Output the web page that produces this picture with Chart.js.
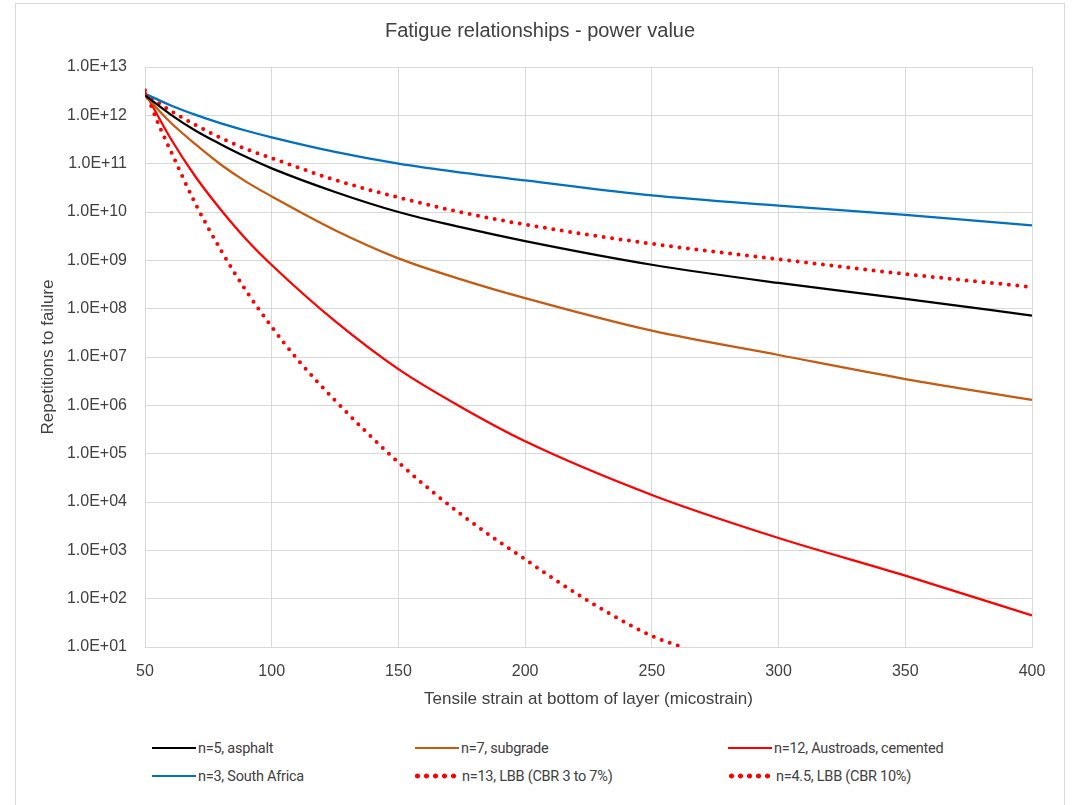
<!DOCTYPE html>
<html>
<head>
<meta charset="utf-8">
<script src="https://cdn.jsdelivr.net/npm/chart.js@4.4.1/dist/chart.umd.min.js"></script>
<style>
  body { margin: 0; background: #fff; font-family: "Liberation Sans", Arial, sans-serif; }
  #frame { position: absolute; left: 15px; top: 3px; width: 1050px; height: 830px; border: 1px solid #d9d9d9; box-sizing: border-box; }
  #chart { position: absolute; left: 0; top: 0; }
  .item { position: absolute; font-family: Roboto, sans-serif; font-size: 14.5px; letter-spacing: -0.25px; color: #404040;
          display: flex; align-items: center; white-space: nowrap; height: 20px; }
  .line { display: inline-block; width: 44px; height: 2.5px; margin-right: 2px; }
  .dots { display: inline-block; width: 46px; height: 6px; margin-right: 3px;
          background: radial-gradient(circle, #ff0000 2.2px, rgba(255,0,0,0) 2.8px) 0 0 / 9px 6px repeat-x; }
</style>
</head>
<body>
<div id="frame"></div>
<canvas id="chart" width="1077" height="720"></canvas>
<div id="legend"></div>
<script>
// strain (microstrain) for the smooth curves
const strain = [50, 60, 70, 80, 90, 100, 125, 150, 175, 200, 250, 300, 350, 400];
const asphaltN5 = [2.6e12, 1.05e12, 4.8e11, 2.5e11, 1.37e11, 8.0e10, 2.6e10, 1.0e10, 4.8e9, 2.5e9, 8.1e8, 3.4e8, 1.6e8, 7.2e7];
const subgradeN7 = [2.6e12, 7.2e11, 2.5e11, 9.5e10, 4.2e10, 2.1e10, 4.2e9, 1.1e9, 4.0e8, 1.65e8, 3.5e7, 1.1e7, 3.5e6, 1.3e6];
const cementedN12 = [3.0e12, 3.4e11, 5.3e10, 1.1e10, 2.7e9, 8.0e8, 5.5e7, 5.6e6, 9.0e5, 1.8e5, 1.4e4, 1.8e3, 3.0e2, 45];
const southAfricaN3 = [2.8e12, 1.62e12, 1.02e12, 6.8e11, 4.8e11, 3.5e11, 1.75e11, 1.0e11, 6.5e10, 4.5e10, 2.2e10, 1.35e10, 8.7e9, 5.3e9];
const lbbCbr10 = [2.8e12, 1.25e12, 6.3e11, 3.4e11, 2.0e11, 1.3e11, 4.6e10, 2.0e10, 9.8e9, 5.5e9, 2.2e9, 1.05e9, 5.2e8, 2.8e8];

// the steep LBB curve runs off the bottom near 262
const strainLbb37 = [50, 55, 60, 70, 80, 90, 100, 110, 125, 150, 175, 200, 225, 250, 262];
const lbbCbr3to7 = [3.3e12, 7.2e11, 1.9e11, 1.45e10, 1.6e9, 2.3e8, 4.2e7, 9.1e6, 1.26e6, 6.6e4, 5.4e3, 650, 89, 17, 10];

const xTicks = [50, 100, 150, 200, 250, 300, 350, 400];
const yTicks = [1e1, 1e2, 1e3, 1e4, 1e5, 1e6, 1e7, 1e8, 1e9, 1e10, 1e11, 1e12, 1e13];
const yTickLabels = ['1.0E+01', '1.0E+02', '1.0E+03', '1.0E+04', '1.0E+05', '1.0E+06', '1.0E+07',
                     '1.0E+08', '1.0E+09', '1.0E+10', '1.0E+11', '1.0E+12', '1.0E+13'];

const textColor = '#404040';
const gridColor = '#d9d9d9';

function pts(xs, ys) { return xs.map((x, i) => ({ x: x, y: ys[i] })); }

function solid(label, xs, ys, color) {
  return { label, data: pts(xs, ys), borderColor: color, backgroundColor: color,
           borderWidth: 2.25, pointRadius: 0, cubicInterpolationMode: 'monotone' };
}
function dotted(label, xs, ys) {
  return { label, data: pts(xs, ys), borderColor: '#ff0000', backgroundColor: '#ff0000',
           borderWidth: 4, borderDash: [0, 8.5], borderCapStyle: 'round',
           pointRadius: 0, cubicInterpolationMode: 'monotone', dotted: true };
}

const datasets = [
  solid('n=5, asphalt', strain, asphaltN5, '#000000'),
  solid('n=7, subgrade', strain, subgradeN7, '#c55a11'),
  solid('n=12, Austroads, cemented', strain, cementedN12, '#ff0000'),
  solid('n=3, South Africa', strain, southAfricaN3, '#0070c0'),
  dotted('n=13, LBB (CBR 3 to 7%)', strainLbb37, lbbCbr3to7),
  dotted('n=4.5, LBB (CBR 10%)', strain, lbbCbr10)
];

const chart = new Chart(document.getElementById('chart'), {
  type: 'line',
  data: { datasets },
  options: {
    responsive: false,
    animation: false,
    layout: { padding: { left: 48, right: 45, top: 5, bottom: 0 } },
    plugins: {
      legend: { display: false },
      tooltip: { enabled: false },
      title: {
        display: true,
        text: 'Fatigue relationships - power value',
        color: textColor,
        font: { size: 20, family: '"Liberation Sans", Arial, sans-serif', weight: 'normal' },
        padding: { top: 14, bottom: 24 }
      }
    },
    scales: {
      x: {
        type: 'linear', min: 50, max: 400,
        afterBuildTicks: s => { s.ticks = xTicks.map(v => ({ value: v })); },
        afterFit: s => { s.height = 73; },
        grid: { color: gridColor, drawTicks: false },
        border: { color: gridColor },
        ticks: { color: textColor, padding: 15, font: { size: 16 } },
        title: { display: true, text: 'Tensile strain at bottom of layer (micostrain)', color: textColor,
                 font: { size: 17 }, padding: { top: 0, bottom: 10 } }
      },
      y: {
        type: 'logarithmic', min: 1e1, max: 1e13,
        afterBuildTicks: s => { s.ticks = yTicks.map(v => ({ value: v })); },
        afterFit: s => { s.width = 145 - 48; },
        grid: { color: gridColor, drawTicks: false },
        border: { color: gridColor },
        ticks: { color: textColor, padding: 18, font: { size: 16 } },
        title: { display: true, text: 'Repetitions to failure', color: textColor,
                 font: { size: 17 }, padding: { top: -10, bottom: 0 } }
      }
    }
  }
});
chart.options.scales.y.ticks.callback = v => yTickLabels[yTicks.indexOf(v)];
chart.update();

// legend laid out in three columns like the original
const legendPos = [[152, 748], [415, 748], [728, 748], [152, 776], [413, 776], [727, 776]];
const legend = document.getElementById('legend');
chart.data.datasets.forEach((ds, i) => {
  const item = document.createElement('div');
  item.className = 'item';
  item.style.left = legendPos[i][0] + 'px';
  item.style.top = (legendPos[i][1] - 10) + 'px';
  const mark = document.createElement('span');
  if (ds.dotted) {
    mark.className = 'dots';
  } else {
    mark.className = 'line';
    mark.style.background = ds.borderColor;
  }
  item.appendChild(mark);
  item.appendChild(document.createTextNode(ds.label));
  legend.appendChild(item);
});
</script>
</body>
</html>
